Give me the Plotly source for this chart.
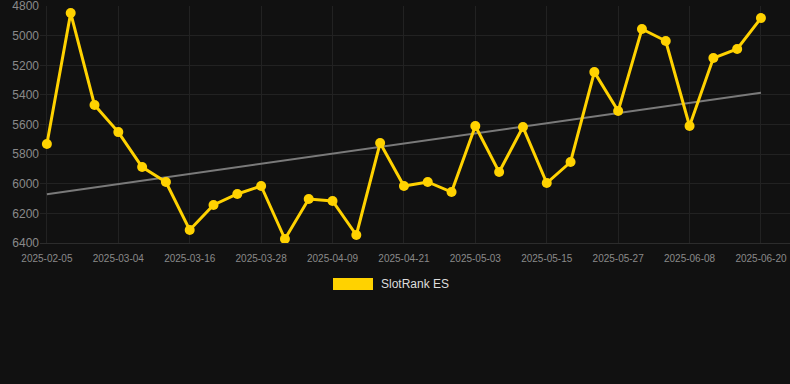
import plotly.graph_objects as go

dates = ["2025-02-05", "2025-02-24", "2025-02-28", "2025-03-04", "2025-03-08", "2025-03-12",
         "2025-03-16", "2025-03-20", "2025-03-24", "2025-03-28", "2025-04-01", "2025-04-05",
         "2025-04-09", "2025-04-13", "2025-04-17", "2025-04-21", "2025-04-25", "2025-04-29",
         "2025-05-03", "2025-05-07", "2025-05-11", "2025-05-15", "2025-05-19", "2025-05-23",
         "2025-05-27", "2025-05-31", "2025-06-04", "2025-06-08", "2025-06-12", "2025-06-16",
         "2025-06-20"]
rank = [5732, 4847, 5468, 5651, 5887, 5988, 6312, 6143, 6069, 6015, 6373, 6103,
        6116, 6346, 5725, 6015, 5988, 6056, 5610, 5921, 5617, 5995, 5853, 5246,
        5509, 4955, 5036, 5610, 5151, 5090, 4881]
trend_ends = [6071, 5385]
tick_labels = dates[::3]
y_ticks = [4800, 5000, 5200, 5400, 5600, 5800, 6000, 6200, 6400]

YELLOW = "#FFD200"
BG = "#111111"
FONT = "Liberation Sans, Arial, sans-serif"

fig = go.Figure()
fig.add_trace(go.Scatter(
    x=dates, y=rank, mode="lines+markers", name="SlotRank ES",
    line=dict(color=YELLOW, width=3),
    marker=dict(color=YELLOW, size=10), showlegend=False))
fig.add_trace(go.Scatter(
    x=[dates[0], dates[-1]], y=trend_ends, mode="lines",
    line=dict(color="#7a7a7a", width=2), showlegend=False, hoverinfo="skip"))
# keep the yellow series on top of the trend line
fig.data = (fig.data[1], fig.data[0])

# legend drawn in paper space
fig.add_shape(type="rect", xref="paper", yref="paper",
              x0=(333 - 40) / 750, x1=(373 - 40) / 750,
              y0=(243 - 290) / 237, y1=(243 - 278) / 237,
              fillcolor=YELLOW, line=dict(width=0))
fig.add_annotation(text="SlotRank ES", xref="paper", yref="paper",
                   x=(379 - 40) / 750, y=(243 - 284) / 237, xanchor="left", yanchor="middle",
                   showarrow=False, font=dict(family=FONT, size=12, color="#dddddd"))

fig.update_layout(
    width=790, height=384,
    margin=dict(l=40, r=0, t=6, b=141),
    paper_bgcolor=BG, plot_bgcolor=BG,
    font=dict(family=FONT),
    showlegend=False,
    xaxis=dict(type="category", categoryorder="array", categoryarray=dates,
               range=[-0.29, 31.22],
               tickmode="array", tickvals=tick_labels, ticktext=tick_labels,
               showgrid=True, gridcolor="#222222", gridwidth=1,
               zeroline=False, showline=True, linecolor="#2c2c2c",
               ticks="", ticklabelstandoff=6, tickfont=dict(size=10, color="#8a8a8a")),
    yaxis=dict(range=[6400, 4799.5], tickmode="array", tickvals=y_ticks,
               showgrid=True, gridcolor="#222222", gridwidth=1,
               zeroline=False, showline=False, ticks="",
               ticklabeloverflow="allow",
               tickfont=dict(size=12, color="#8a8a8a")),
)

fig.write_html("out.html")
